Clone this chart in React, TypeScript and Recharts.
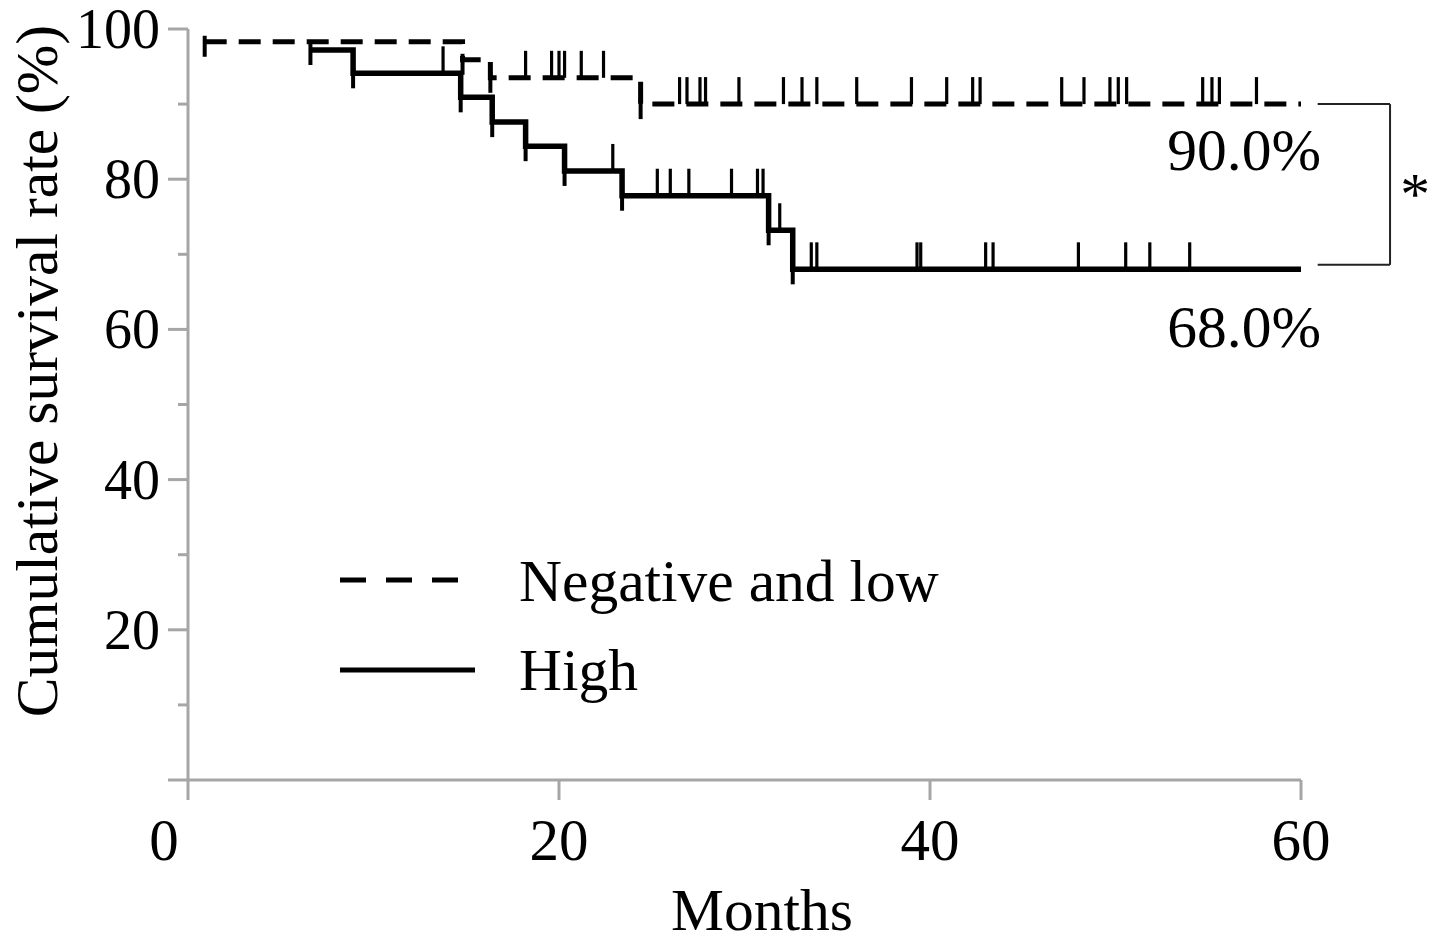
import React from 'react';
import { ComposedChart, Line, Scatter, XAxis, YAxis, ReferenceLine } from 'recharts';

// Kaplan-Meier step points (time in months, cumulative survival %)
const negLowSteps = [
  { t: 0.9, s: 98.3 },
  { t: 14.8, s: 95.9 },
  { t: 16.3, s: 93.5 },
  { t: 24.4, s: 90.0 },
  { t: 60, s: 90.0 },
];
const highSteps = [
  { t: 6.6, s: 97.2 },
  { t: 8.9, s: 94.1 },
  { t: 14.7, s: 90.9 },
  { t: 16.4, s: 87.6 },
  { t: 18.2, s: 84.4 },
  { t: 20.3, s: 81.1 },
  { t: 23.4, s: 77.8 },
  { t: 31.3, s: 73.2 },
  { t: 32.6, s: 68.0 },
  { t: 60, s: 68.0 },
];
// censored observation times
const negLowCensored = [18.2, 19.6, 20.0, 20.3, 21.2, 22.4, 26.5, 26.9, 27.6, 27.9, 29.7, 32.1, 33.1, 33.9, 36.05, 39.0, 40.9, 42.3, 42.7, 47.1, 48.3, 49.7, 50.15, 50.6, 54.7, 55.2, 55.6, 57.6];
const highCensored = [13.75, 22.9, 25.3, 26.0, 27.0, 29.3, 30.7, 31.0, 31.9, 33.6, 33.9, 39.3, 39.5, 43.0, 43.4, 48.0, 50.55, 51.85, 54.0];

const xTicks = [0, 20, 40, 60];
const yTicks = [0, 10, 20, 30, 40, 50, 60, 70, 80, 90, 100];
const finalLabels = ['90.0%', '68.0%'];
const legendNames = ['Negative and low', 'High'];

const FONT = '"Liberation Serif", "Times New Roman", serif';
const AXIS = '#a6a6a6';

const levelAt = (steps: { t: number; s: number }[], t: number) => {
  let s = steps[0].s;
  for (const p of steps) if (p.t <= t) s = p.s;
  return s;
};
const censorPts = (steps: { t: number; s: number }[], times: number[]) => times.map((t) => ({ t, s: levelAt(steps, t) }));
const eventPts = (steps: { t: number; s: number }[]) => steps.slice(0, -1);

const UpTick = (p: any) => <line x1={p.cx} x2={p.cx} y1={p.cy - 27} y2={p.cy} stroke="#000" strokeWidth={3.2} />;
const DownTick = (p: any) => <line x1={p.cx} x2={p.cx} y1={p.cy - 6} y2={p.cy + 15} stroke="#000" strokeWidth={4} />;

const XTick = (p: any) => {
  const { x, y, payload } = p;
  const dx = payload.value === 0 ? -24 : 0;
  return (
    <g>
      <line x1={x} x2={x} y1={y} y2={y + 20} stroke={AXIS} strokeWidth={3} />
      <text x={x + dx} y={y + 80} textAnchor="middle" fontFamily={FONT} fontSize={59} fill="#000">{payload.value}</text>
    </g>
  );
};
const YTick = (p: any) => {
  const { x, y, payload } = p;
  const major = payload.value % 20 === 0;
  return (
    <g>
      <line x1={x - (major ? 20 : 10)} x2={x} y1={y} y2={y} stroke={AXIS} strokeWidth={3} />
      {major && payload.value > 0 && (
        <text x={x - 28} y={y + 19} textAnchor="end" fontFamily={FONT} fontSize={56} fill="#000">{payload.value}</text>
      )}
    </g>
  );
};

export default function App() {
  const W = 1441;
  const H = 946;
  return (
    <div style={{ position: 'absolute', left: 0, top: 0, width: W, height: H, background: '#fff' }}>
      <ComposedChart width={W} height={H} margin={{ top: 29, right: 140, bottom: 66, left: 88 }}>
        <XAxis
          type="number"
          dataKey="t"
          domain={[0, 60]}
          ticks={xTicks}
          interval={0}
          height={100}
          tickSize={0}
          tickMargin={0}
          tickLine={false}
          axisLine={{ stroke: AXIS, strokeWidth: 3 }}
          tick={<XTick />}
          allowDataOverflow
        />
        <YAxis
          type="number"
          dataKey="s"
          domain={[0, 100]}
          ticks={yTicks}
          interval={0}
          width={100}
          tickSize={0}
          tickMargin={0}
          tickLine={false}
          axisLine={{ stroke: AXIS, strokeWidth: 3 }}
          tick={<YTick />}
        />
        <Line data={negLowSteps} dataKey="s" type="stepAfter" stroke="#000" strokeWidth={5} strokeDasharray="22 12" dot={false} activeDot={false} isAnimationActive={false} />
        <Line data={highSteps} dataKey="s" type="stepAfter" stroke="#000" strokeWidth={5.5} dot={false} activeDot={false} isAnimationActive={false} />
        <Scatter data={censorPts(negLowSteps, negLowCensored)} dataKey="s" shape={UpTick} isAnimationActive={false} />
        <Scatter data={censorPts(highSteps, highCensored)} dataKey="s" shape={UpTick} isAnimationActive={false} />
        <Scatter data={eventPts(negLowSteps)} dataKey="s" shape={DownTick} isAnimationActive={false} />
        <Scatter data={eventPts(highSteps)} dataKey="s" shape={DownTick} isAnimationActive={false} />
        <ReferenceLine ifOverflow="visible" segment={[{ x: 60.9, y: 90 }, { x: 64.8, y: 90 }]} stroke="#222" strokeWidth={2} />
        <ReferenceLine ifOverflow="visible" segment={[{ x: 64.8, y: 90 }, { x: 64.8, y: 68.6 }]} stroke="#222" strokeWidth={2} />
        <ReferenceLine ifOverflow="visible" segment={[{ x: 60.9, y: 68.6 }, { x: 64.8, y: 68.6 }]} stroke="#222" strokeWidth={2} />
      </ComposedChart>
      <svg width={W} height={H} style={{ position: 'absolute', left: 0, top: 0, pointerEvents: 'none' }}>
        <g fontFamily={FONT} fontSize={59.5} fill="#000">
          <text transform="translate(57,371) rotate(-90)" textAnchor="middle">Cumulative survival rate (%)</text>
          <text x={762} y={930} textAnchor="middle">Months</text>
          <text x={1321} y={170} textAnchor="end">{finalLabels[0]}</text>
          <text x={1321} y={347} textAnchor="end">{finalLabels[1]}</text>
          <text x={1415} y={214} textAnchor="middle">*</text>
          <line x1={340} x2={460} y1={580} y2={580} stroke="#000" strokeWidth={5} strokeDasharray="26 20" />
          <text x={519} y={601}>{legendNames[0]}</text>
          <line x1={340} x2={475} y1={670} y2={670} stroke="#000" strokeWidth={5} />
          <text x={519} y={690}>{legendNames[1]}</text>
        </g>
      </svg>
    </div>
  );
}
